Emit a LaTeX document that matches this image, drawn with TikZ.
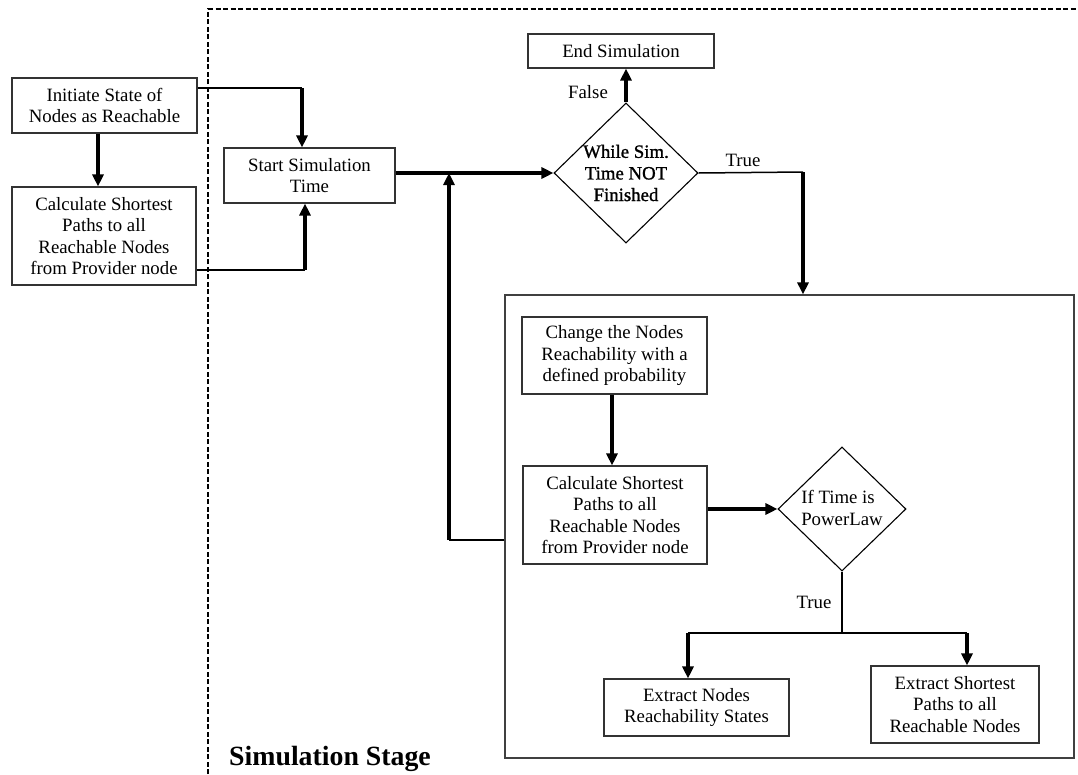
\documentclass[tikz,border=0pt]{standalone}
\usepackage{fontspec}
\setmainfont{Liberation Serif}
\newfontfamily\heavyfont{Liberation Serif}[FakeBold=1.2]
\usetikzlibrary{arrows.meta,shapes.geometric}

\begin{document}
\begin{tikzpicture}[x=1pt,y=-1pt,
  font=\fontsize{18.8}{21.6}\selectfont,
  stepbox/.style={draw=black!80,line width=1.1pt,rectangle,inner sep=0pt,align=center},
  choice/.style={draw=black,line width=1.1pt,diamond,inner sep=-30pt,align=center},
  frame/.style={draw=black!75,line width=1.2pt},
  thinlink/.style={line width=1.5pt},
  thicklink/.style={line width=3.2pt,-{Triangle[length=12pt,width=11pt]}},
  stagebound/.style={line width=2pt,dash pattern=on 5pt off 2.5pt},
  tag/.style={inner sep=0pt}
]
\useasboundingbox (0,0) rectangle (1078,774);

% stage boundary
\coordinate (bndTop) at (208,9);
\coordinate (bndBot) at (208,774);
\coordinate (bndRight) at (1078,9);
\draw[stagebound] (bndBot) -- (bndTop) -- (bndRight);

% preparation steps
\node[stepbox,minimum width=185,minimum height=55] (init) at (104.5,105.5)
  {Initiate State of\\Nodes as Reachable};
\node[stepbox,minimum width=184,minimum height=98] (calcA) at (104,236)
  {Calculate Shortest\\Paths to all\\Reachable Nodes\\from Provider node};

% simulation main loop
\node[stepbox,minimum width=171,minimum height=55] (start) at (309.5,175.5)
  {Start Simulation\\Time};
\node[stepbox,minimum width=186,minimum height=34] (endsim) at (621,51)
  {End Simulation};
\node[choice,minimum width=144,minimum height=140] (while) at (626,173)
  {\heavyfont While Sim.\\\heavyfont Time NOT\\\heavyfont Finished};

% per-step box
\node[frame,rectangle,minimum width=569,minimum height=463,inner sep=0pt] (loop) at (789.5,526.5) {};
\node[stepbox,minimum width=185,minimum height=77] (change) at (614.5,355.5)
  {Change the Nodes\\Reachability with a\\defined probability};
\node[stepbox,minimum width=184,minimum height=98] (calcB) at (615,515)
  {Calculate Shortest\\Paths to all\\Reachable Nodes\\from Provider node};
\node[choice,minimum width=128,minimum height=124,inner sep=0pt] (ifd) at (842,509) {};
\node[tag,align=left] (ifdText) at (842,508) {If Time is\\PowerLaw};
\node[stepbox,minimum width=185,minimum height=57] (extN) at (696.5,707.5)
  {Extract Nodes\\Reachability States};
\node[stepbox,minimum width=168,minimum height=77] (extS) at (955,704.5)
  {Extract Shortest\\Paths to all\\Reachable Nodes};

% labels
\node[tag] (falseLbl) at (588,92) {False};
\node[tag] (trueLbl) at (743,160) {True};
\node[tag] (trueLbl2) at (814,602) {True};
\node[tag,anchor=base west,font=\fontsize{27.8}{30}\selectfont\bfseries] (stage) at (229,765) {Simulation Stage};

% preparation connectors
\draw[thicklink] (init.south -| 98,0) -- (calcA.north -| 98,0);
\coordinate (j1) at (302,88);
\draw[thinlink] (init.east |- j1) -- (j1);
\draw[thicklink] (j1) -- (start.north -| j1);
\coordinate (j2) at (305,270);
\draw[thinlink] (calcA.east |- j2) -- (j2);
\draw[thicklink] (j2) -- (start.south -| j2);

% loop connectors
\draw[thicklink] (start.east |- while.west) -- (while.west);
\draw[thicklink] (while.north) -- (while.north |- endsim.south);
\coordinate (j3) at (803,172);
\draw[thinlink] (while.east) -- (j3);
\draw[thicklink] (j3) -- (loop.north -| j3);
\coordinate (j4) at (449,540);
\draw[thinlink] (loop.west |- j4) -- (j4);
\draw[thicklink] (j4) -- (j4 |- while.west);

% inner connectors
\draw[thicklink] (change.south -| 612,0) -- (calcB.north -| 612,0);
\draw[thicklink] (calcB.east |- ifd.west) -- (ifd.west);
\coordinate (j5) at (842,633);
\coordinate (j6) at (688,633);
\coordinate (j7) at (967,633);
\draw[thinlink] (ifd.south) -- (j5);
\draw[thinlink] (j6) -- (j7);
\draw[thicklink] (j6) -- (extN.north -| j6);
\draw[thicklink] (j7) -- (extS.north -| j7);
\end{tikzpicture}
\end{document}
